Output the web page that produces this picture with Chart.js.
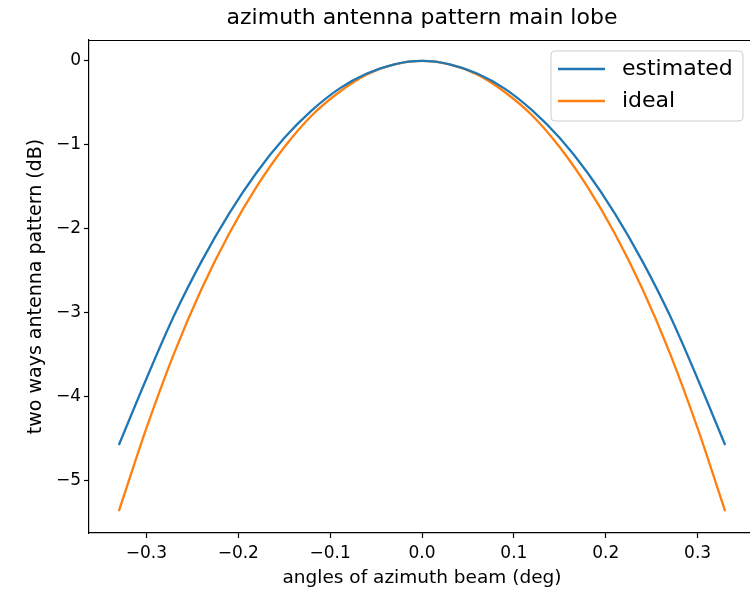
<!DOCTYPE html>
<html>
<head>
<meta charset="utf-8">
<script src="https://cdn.jsdelivr.net/npm/chart.js@4.4.1/dist/chart.umd.min.js"></script>
<style>
  html, body { margin: 0; padding: 0; background: #fff; overflow: hidden; }
  #wrap { width: 757px; height: 591px; }
</style>
</head>
<body>
<div id="wrap"><canvas id="patternChart" width="757" height="591"></canvas></div>
<script>
// values
const angles = [-0.33, -0.30, -0.27, -0.24, -0.21, -0.18, -0.15, -0.12, -0.09, -0.06, -0.03, 0,
                0.03, 0.06, 0.09, 0.12, 0.15, 0.18, 0.21, 0.24, 0.27, 0.30, 0.33];
const estimated = [-4.58, -3.79, -3.04, -2.39, -1.82, -1.33, -0.92, -0.59, -0.33, -0.15, -0.04, 0,
                   -0.04, -0.15, -0.33, -0.59, -0.92, -1.33, -1.82, -2.39, -3.04, -3.79, -4.58];
const ideal = [-5.37, -4.38, -3.49, -2.72, -2.06, -1.50, -1.03, -0.65, -0.37, -0.16, -0.04, 0,
               -0.04, -0.16, -0.37, -0.65, -1.03, -1.50, -2.06, -2.72, -3.49, -4.38, -5.37];
const xTicks = [-0.3, -0.2, -0.1, 0, 0.1, 0.2, 0.3];
const yTicks = [0, -1, -2, -3, -4, -5];

const FONT = "'DejaVu Sans', sans-serif";
const minus = s => String(s).replace('-', '\u2212');

// title, top/right spines and boxed legend like matplotlib
const decor = {
    id: 'decor',
    afterDraw(chart) {
        const ctx = chart.ctx;
        const a = chart.chartArea;
        ctx.save();
        ctx.strokeStyle = '#000';
        ctx.lineWidth = 1.2;
        ctx.beginPath();
        ctx.moveTo(a.left, a.top + 0.5);
        ctx.lineTo(a.right, a.top + 0.5);
        ctx.lineTo(a.right, a.bottom);
        ctx.stroke();

        ctx.fillStyle = '#000';
        ctx.font = '22px ' + FONT;
        ctx.textAlign = 'center';
        ctx.textBaseline = 'middle';
        ctx.fillText('azimuth antenna pattern main lobe', (a.left + a.right) / 2, 18);

        // legend
        ctx.beginPath();
        ctx.roundRect(551, 51, 192, 70, 4);
        ctx.fillStyle = 'rgba(255,255,255,0.8)';
        ctx.fill();
        ctx.strokeStyle = '#cccccc';
        ctx.lineWidth = 1;
        ctx.stroke();
        ctx.textAlign = 'left';
        chart.data.datasets.forEach((ds, i) => {
            const y = 69 + i * 32;
            ctx.strokeStyle = ds.borderColor;
            ctx.lineWidth = 2.3;
            ctx.beginPath();
            ctx.moveTo(558, y);
            ctx.lineTo(605, y);
            ctx.stroke();
            ctx.fillStyle = '#000';
            ctx.fillText(ds.label, 622, y);
        });
        ctx.restore();
    }
};

const ctxPattern = document.getElementById('patternChart').getContext('2d');
new Chart(ctxPattern, {
    type: 'line',
    data: {
        datasets: [{
            label: 'estimated',
            data: angles.map((x, i) => ({ x: x, y: estimated[i] })),
            borderColor: '#1f77b4',
            borderWidth: 2.3,
            pointRadius: 0,
            cubicInterpolationMode: 'monotone',
            fill: false
        }, {
            label: 'ideal',
            data: angles.map((x, i) => ({ x: x, y: ideal[i] })),
            borderColor: '#ff7f0e',
            borderWidth: 2.3,
            pointRadius: 0,
            cubicInterpolationMode: 'monotone',
            fill: false
        }]
    },
    options: {
        responsive: false,
        animation: false,
        devicePixelRatio: 1,
        layout: { padding: { top: 40, left: 0, right: 2, bottom: 0 } },
        plugins: {
            legend: { display: false },
            title: { display: false },
            tooltip: { enabled: false }
        },
        scales: {
            x: {
                type: 'linear',
                min: -0.3625,
                max: 0.3625,
                afterFit: s => { s.height = 58; },
                afterBuildTicks: s => { s.ticks = xTicks.map(v => ({ value: v })); },
                ticks: {
                    color: '#000',
                    font: { family: FONT, size: 17 },
                    padding: 5,
                    maxRotation: 0,
                    autoSkip: false,
                    callback: v => minus(v.toFixed(1))
                },
                grid: { display: true, drawOnChartArea: false, drawTicks: true, tickLength: 5, tickColor: '#000', tickWidth: 1.2 },
                border: { display: true, color: '#000', width: 1.2 },
                title: {
                    display: true,
                    text: 'angles of azimuth beam (deg)',
                    color: '#000',
                    font: { family: FONT, size: 18.5 },
                    padding: { top: 0, bottom: 2 }
                }
            },
            y: {
                min: -5.63,
                max: 0.25,
                afterFit: s => { s.width = 89; },
                afterBuildTicks: s => { s.ticks = yTicks.map(v => ({ value: v })); },
                ticks: {
                    color: '#000',
                    font: { family: FONT, size: 17 },
                    padding: 3,
                    autoSkip: false,
                    callback: v => minus(v)
                },
                grid: { display: true, drawOnChartArea: false, drawTicks: true, tickLength: 5, tickColor: '#000', tickWidth: 1.2 },
                border: { display: true, color: '#000', width: 1.2 },
                title: {
                    display: true,
                    text: 'two ways antenna pattern (dB)',
                    color: '#000',
                    font: { family: FONT, size: 19 },
                    padding: { top: 25, bottom: 0 }
                }
            }
        }
    },
    plugins: [decor]
});
</script>
</body>
</html>
